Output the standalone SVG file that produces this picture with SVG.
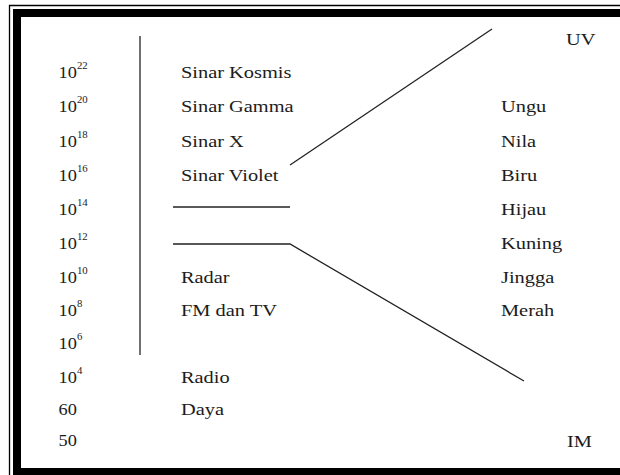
<svg xmlns="http://www.w3.org/2000/svg" width="620" height="475" viewBox="0 0 620 475">
  <style>
    .frame-thin { fill: none; stroke: #000; stroke-width: 1.3; }
    .frame-thick { fill: none; stroke: #000; stroke-width: 8; }
    .rule { fill: none; stroke: #222; stroke-width: 1.3; }
    .lbl { font-family: 'Liberation Serif', 'DejaVu Serif', serif; font-size: 17px; fill: #1c1c1c; }
    .sup { font-size: 10px; }
  </style>

  <rect width="620" height="475" fill="#fff"/>

  <!-- double page frame -->
  <g id="frame">
    <path class="frame-thin" d="M9.5,475 V5.5 H620"/>
    <path class="frame-thick" d="M17,475 V13 H620"/>
    <path class="frame-thick" d="M17,472 H620"/>
  </g>

  <!-- connectors: spectrum divider and visible-light fan -->
  <g id="connectors">
    <line class="rule" x1="140" y1="36" x2="140" y2="355"/>
    <line class="rule" x1="173" y1="207" x2="290" y2="207"/>
    <polyline class="rule" points="173,244 290,244 524,381"/>
    <line class="rule" x1="290" y1="165" x2="492" y2="29"/>
  </g>

  <!-- frequency column (Hz) -->
  <g id="frequencies" class="lbl" font-family="Liberation Serif, serif" transform="scale(1.08,1)">
    <text x="54.2" y="78">10<tspan class="sup" dy="-9">22</tspan></text>
    <text x="54.2" y="112">10<tspan class="sup" dy="-9">20</tspan></text>
    <text x="54.2" y="147">10<tspan class="sup" dy="-9">18</tspan></text>
    <text x="54.2" y="181">10<tspan class="sup" dy="-9">16</tspan></text>
    <text x="54.2" y="215">10<tspan class="sup" dy="-9">14</tspan></text>
    <text x="54.2" y="249">10<tspan class="sup" dy="-9">12</tspan></text>
    <text x="54.2" y="283">10<tspan class="sup" dy="-9">10</tspan></text>
    <text x="54.2" y="316">10<tspan class="sup" dy="-9">8</tspan></text>
    <text x="54.2" y="349">10<tspan class="sup" dy="-9">6</tspan></text>
    <text x="54.2" y="383">10<tspan class="sup" dy="-9">4</tspan></text>
    <text x="54.2" y="415">60</text>
    <text x="54.2" y="446">50</text>
  </g>

  <g class="lbl" font-family="Liberation Serif, serif" transform="scale(1.2,1)">
    <!-- wave bands -->
    <g id="bands">
      <text x="150.8" y="78">Sinar Kosmis</text>
      <text x="150.8" y="112">Sinar Gamma</text>
      <text x="150.8" y="147">Sinar X</text>
      <text x="150.8" y="181">Sinar Violet</text>
      <text x="150.8" y="283">Radar</text>
      <text x="150.8" y="316">FM dan TV</text>
      <text x="150.8" y="383">Radio</text>
      <text x="150.8" y="415">Daya</text>
    </g>

    <!-- visible spectrum colours -->
    <g id="colours">
      <text x="471.7" y="45">UV</text>
      <text x="417.5" y="112">Ungu</text>
      <text x="417.5" y="147">Nila</text>
      <text x="417.5" y="181">Biru</text>
      <text x="417.5" y="215">Hijau</text>
      <text x="417.5" y="249">Kuning</text>
      <text x="417.5" y="283">Jingga</text>
      <text x="417.5" y="316">Merah</text>
      <text x="472.5" y="447">IM</text>
    </g>
  </g>
</svg>
